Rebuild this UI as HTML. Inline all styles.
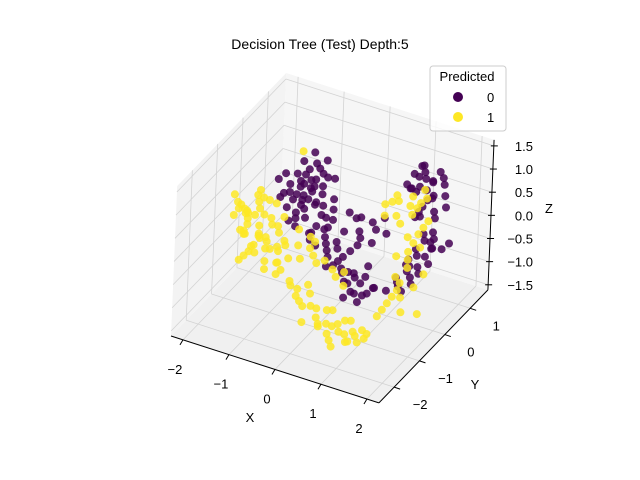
<!DOCTYPE html>
<html><head><meta charset="utf-8"><style>
body{margin:0;background:#fff;}
svg{display:block;font-family:"Liberation Sans","DejaVu Sans",sans-serif;}
</style></head><body>
<svg id="chart" width="640" height="480" viewBox="0 0 640 480">
<text x="320" y="49" text-anchor="middle" font-size="14">Decision Tree (Test) Depth:5</text>
<g id="panes"></g>
<g id="grid"></g>
<g id="axes"></g>
<g id="pts"></g>
<text x="250" y="422" text-anchor="middle" font-size="13">X</text>
<text x="475" y="389" text-anchor="middle" font-size="13">Y</text>
<text x="549" y="213" text-anchor="middle" font-size="13">Z</text>
<g>
<rect x="430" y="66" width="76" height="65" rx="3" fill="#fff" fill-opacity="0.8" stroke="#ccc"/>
<text x="467" y="81" text-anchor="middle" font-size="13">Predicted</text>
<g><circle cx="458" cy="97" r="5" fill="#440154"/><text x="487" y="102" font-size="13">0</text></g>
<g><circle cx="458" cy="117" r="5" fill="#fde725"/><text x="487" y="122" font-size="13">1</text></g>
</g>
</svg>
<script>
const xTicks=[-2,-1,0,1,2];
const yTicks=[-2,-1,0,1];
const zTicks=[-1.5,-1.0,-0.5,0.0,0.5,1.0,1.5];
const zTickLabels=["\u22121.5","\u22121.0","\u22120.5","0.0","0.5","1.0","1.5"];
const xTickLabels=["\u22122","\u22121","0","1","2"];
const yTickLabels=["\u22122","\u22121","0","1"];
const class0X=[-1.3,-1.2,-1.1,-1.0,-0.9,-1.4,-1.2,-0.8,-1.0,-1.5,-1.1,-0.7,-1.3,-0.9,-1.6,-0.6,-1.2,-1.0,-0.8,-1.4,-0.5,-1.1,-0.9,-1.7,-0.7,-0.5,-0.4,-0.3,-0.2,-0.1,0.0,0.1,0.2,0.3,0.4,0.5,0.6,-0.6,0.0,0.2,-0.3,0.7,0.4,-0.2,0.1,0.0,0.2,-0.2,0.4,0.1,0.3,1.0,1.1,0.9,1.2,1.0,1.3,0.8,1.1,1.2,1.4,0.9,1.3,1.2,1.4,1.3,1.1,1.5,1.0,1.2,0.9,1.6,1.5,1.1,0.8,1.4,1.7,1.0,0.8,1.3,1.6,1.8,
-1.25,-1.15,-1.05,-0.95,-0.85,-1.35,-1.25,-0.75,-1.05,-1.45,-1.0,-0.65,-1.2,-0.85,-1.5,-0.55,-1.1,-0.95,-0.75,-1.3,-0.6,-1.15,-0.85,-1.6,-0.8,-1.35,-0.9,-1.2,
-0.45,-0.35,-0.25,-0.15,-0.05,0.05,0.15,0.25,0.35,0.45,0.55,0.65,-0.5,0.05,0.3,-0.1,0.5,
1.05,1.15,0.95,1.25,1.05,1.35,0.85,1.15,1.25,1.45,1.35,1.25,1.45,1.35,1.15,1.55,1.05,1.25,0.95,1.55,1.45,1.5,1.1];
const class0Y=[0.5,0.6,0.4,0.7,0.5,0.3,0.8,0.6,0.3,0.6,0.9,0.4,0.2,0.8,0.4,0.7,0.5,0.5,0.2,0.7,0.5,0.1,0.3,0.5,0.9,0.2,0.1,0.3,0.0,0.2,0.0,-0.1,0.1,-0.2,0.0,-0.3,-0.1,0.0,0.3,-0.3,-0.1,0.0,0.3,0.4,0.4,0.7,0.8,0.6,0.9,0.5,0.6,1.0,1.2,1.1,0.9,1.3,1.1,1.0,0.8,1.3,1.0,1.4,0.8,0.7,0.9,0.6,0.6,0.8,0.7,0.5,0.5,1.1,1.2,1.0,1.2,0.7,0.8,0.4,0.3,1.4,0.6,0.9,
0.55,0.45,0.65,0.55,0.45,0.45,0.75,0.55,0.35,0.5,0.85,0.5,0.3,0.7,0.35,0.6,0.6,0.4,0.3,0.65,0.35,0.2,0.25,0.6,0.8,0.85,0.95,1.0,
0.15,0.05,0.25,0.1,0.05,0.15,-0.05,0.05,-0.15,0.1,-0.2,0.05,0.3,0.55,0.75,0.7,0.8,
1.05,1.15,1.2,1.0,1.25,1.05,1.05,0.85,1.2,0.95,0.75,0.65,0.85,0.55,0.55,0.75,0.65,0.45,0.45,1.15,1.25,0.65,0.35];
const class0Z=[0.0,0.2,0.1,0.3,-0.1,-0.2,0.4,0.1,-0.3,0.1,0.5,-0.2,-0.4,0.4,-0.1,0.0,-0.2,0.4,-0.5,0.3,-0.3,-0.4,-0.6,0.2,0.3,-0.5,-0.7,-0.6,-0.9,-0.8,-1.0,-1.1,-1.0,-1.2,-1.1,-1.3,-1.2,-0.6,-0.7,-1.3,-0.9,-1.1,-0.9,-0.4,-0.6,-0.2,-0.3,-0.1,-0.2,-0.5,-0.6,0.5,0.7,0.8,0.3,0.9,0.4,0.6,0.1,0.6,0.2,0.8,-0.2,-0.5,-0.4,-0.8,-0.7,-0.1,-0.9,-1.0,-1.1,0.3,0.7,0.0,0.4,-0.6,-0.4,-1.2,-1.3,0.8,-0.3,-0.3,
0.15,-0.05,0.05,0.25,0.0,-0.1,0.3,-0.1,-0.15,0.0,0.45,-0.3,-0.25,0.2,0.05,-0.15,-0.1,0.3,-0.4,0.2,-0.45,-0.3,-0.7,0.3,0.35,0.5,0.6,0.65,
-0.6,-0.8,-0.7,-0.85,-0.95,-1.05,-1.15,-1.05,-1.25,-1.0,-1.2,-1.15,-0.35,-0.4,-0.4,-0.25,-0.45,
0.6,0.5,0.7,0.4,0.8,0.5,0.5,0.2,0.7,0.1,-0.3,-0.6,-0.5,-0.9,-0.8,-0.2,-1.0,-1.1,-1.15,0.5,0.8,-0.7,-1.25];
const class1X=[-1.7,-1.6,-1.5,-1.4,-1.3,-1.6,-1.2,-1.1,-1.5,-1.8,-1.0,-1.3,-0.9,-1.4,-1.7,-1.2,-0.8,-1.0,-1.6,-1.1,-1.3,-1.9,-0.9,-1.5,-1.2,-0.7,-0.6,-0.4,-0.2,0.0,0.2,0.4,0.6,0.8,1.0,0.9,0.5,0.3,-0.1,0.7,1.1,0.1,-0.3,0.6,1.2,1.2,1.3,1.4,1.3,1.5,1.4,1.5,1.5,1.3,1.6,1.7,1.6,1.2,1.4,1.1,1.6,1.8,1.9,1.2,1.0,-0.5,-0.3,-0.6,0.0,0.3,-1.4,0.6,0.4,0.7,
-1.65,-1.55,-1.45,-1.35,-1.25,-1.55,-1.15,-1.05,-1.45,-1.75,-0.95,-1.25,-0.85,-1.35,-1.65,-1.15,-0.75,-1.05,-1.6,-1.05,-1.4,-1.8,-0.85,-1.45,-1.3,-1.5,-1.2,-1.0,
-0.55,-0.45,-0.3,-0.1,0.1,0.3,0.5,0.7,0.9,0.8,0.4,0.2,-0.2,1.0,0.6,
1.25,1.35,1.4,1.45,1.45,1.35,1.55,1.5,1.3,1.2,1.4,
-0.4,-0.2,0.1,0.2,-0.45,0.5,0.55,
-0.6,-0.5,-0.7];
const class1Y=[-1.0,-0.9,-1.1,-0.8,-1.0,-1.2,-0.9,-1.1,-0.7,-1.1,-0.8,-1.3,-1.0,-1.2,-0.8,-0.7,-1.2,-1.3,-1.0,-0.6,-0.6,-0.9,-0.7,-1.4,-1.2,-0.9,-1.0,-1.1,-1.2,-1.0,-1.3,-1.1,-1.2,-1.0,-1.2,-1.4,-1.4,-0.9,-1.4,-0.9,-1.0,-1.1,-0.8,-1.5,-1.3,-0.8,-0.6,-0.4,-0.3,-0.2,0.0,0.2,0.5,0.3,0.1,-0.3,-0.6,0.4,0.6,0.2,0.4,-0.1,-0.5,-0.1,0.3,-0.4,-0.5,-0.2,-0.4,-0.5,0.9,1.0,0.9,0.8,
-0.95,-1.0,-0.9,-0.9,-1.05,-1.15,-0.95,-1.0,-0.75,-1.0,-0.85,-1.25,-1.05,-1.1,-0.85,-0.75,-1.1,-1.2,-1.05,-0.65,-0.65,-0.95,-0.75,-1.3,-0.8,-0.6,-0.5,-0.55,
-1.05,-0.95,-1.15,-1.05,-1.2,-1.15,-1.05,-1.15,-1.1,-1.3,-1.3,-0.95,-0.9,-1.0,-0.95,
-0.7,-0.5,-0.3,-0.1,0.1,0.4,0.3,-0.45,0.15,0.5,0.45,
-0.45,-0.35,-0.45,-0.3,-0.3,0.7,0.9,
-0.7,-0.8,-0.5];
const class1Z=[0.5,0.3,0.2,0.4,0.0,0.1,-0.1,-0.2,0.6,0.3,-0.3,-0.1,-0.5,-0.3,0.2,0.2,-0.6,-0.5,-0.1,0.0,0.5,0.6,-0.2,-0.4,0.1,-0.4,-0.8,-1.0,-1.1,-1.2,-1.3,-1.4,-1.4,-1.45,-1.5,-1.4,-1.5,-1.2,-1.3,-1.3,-1.4,-1.5,-0.9,-1.55,-1.3,-1.1,-0.9,-0.7,-0.5,-0.3,-0.1,0.2,0.8,0.5,0.0,-0.6,-1.0,0.6,0.9,0.3,0.4,-0.4,-1.0,-0.2,0.7,-0.4,-0.6,-0.3,-0.7,-0.9,0.67,0.3,0.1,0.0,
0.4,0.25,0.3,0.1,-0.05,0.0,-0.15,-0.25,0.5,0.4,-0.35,-0.25,-0.45,-0.2,0.3,0.1,-0.55,-0.4,0.0,-0.1,0.55,0.5,-0.25,-0.35,0.3,0.65,0.4,0.2,
-0.85,-0.95,-1.05,-1.15,-1.25,-1.35,-1.35,-1.45,-1.45,-1.5,-1.45,-1.2,-1.0,-1.35,-1.3,
-1.0,-0.8,-0.6,-0.2,0.05,0.6,0.3,-0.8,0.1,0.75,0.7,
-0.5,-0.6,-0.8,-0.75,-0.3,0.0,0.2,
-0.2,-0.4,0.0];

const NS="http://www.w3.org/2000/svg";
const xmin=-2.26,xmax=2.26,ymin=-2.6,ymax=1.7,zmin=-1.61,zmax=1.63;
const O=[171,336],ex=[46,14.8],ey=[25.35,-26.28],ez=[1.9,-46.3];
function P(x,y,z){return [O[0]+(x-xmin)*ex[0]+(y-ymin)*ey[0]+(z-zmin)*ez[0], O[1]+(x-xmin)*ex[1]+(y-ymin)*ey[1]+(z-zmin)*ez[1]];}
function mk(tag,attrs,parent){const e=document.createElementNS(NS,tag);for(const k in attrs)e.setAttribute(k,attrs[k]);parent.appendChild(e);return e;}
function poly(pts){return pts.map(p=>p[0].toFixed(1)+","+p[1].toFixed(1)).join(" ");}
const panes=document.getElementById('panes'),grid=document.getElementById('grid'),axes=document.getElementById('axes'),pts=document.getElementById('pts');
let e;
e=mk('polygon',{points:poly([P(xmin,ymin,zmin),P(xmax,ymin,zmin),P(xmax,ymax,zmin),P(xmin,ymax,zmin)]),fill:'#f0f0f0',stroke:'none'},panes);

e=mk('polygon',{points:poly([P(xmin,ymin,zmin),P(xmin,ymax,zmin),P(xmin,ymax,zmax),P(xmin,ymin,zmax)]),fill:'#f3f3f3',stroke:'none'},panes);

e=mk('polygon',{points:poly([P(xmin,ymax,zmin),P(xmax,ymax,zmin),P(xmax,ymax,zmax),P(xmin,ymax,zmax)]),fill:'#f6f6f6',stroke:'none'},panes);

function gl(a,b){const l=mk('line',{x1:a[0],y1:a[1],x2:b[0],y2:b[1],stroke:'#d3d3d3','stroke-width':0.8},grid);

}
xTicks.forEach(x=>{gl(P(x,ymin,zmin),P(x,ymax,zmin));gl(P(x,ymax,zmin),P(x,ymax,zmax));});
yTicks.forEach(y=>{gl(P(xmin,y,zmin),P(xmax,y,zmin));gl(P(xmin,y,zmin),P(xmin,y,zmax));});
zTicks.forEach(z=>{gl(P(xmin,ymin,z),P(xmin,ymax,z));gl(P(xmin,ymax,z),P(xmax,ymax,z));});
function al(a,b,name){const l=mk('line',{x1:a[0],y1:a[1],x2:b[0],y2:b[1],stroke:'#000','stroke-width':1},axes);

}
al(P(xmin,ymin,zmin),P(xmax,ymin,zmin),'x-axis-line');
al(P(xmax,ymin,zmin),P(xmax,ymax,zmin),'y-axis-line');
al(P(xmax,ymax,zmin),P(xmax,ymax,zmax),'z-axis-line');
function txt(x,y,s,anchor,name){const t=mk('text',{x:x,y:y,'font-size':13,'text-anchor':anchor},axes);t.textContent=s;

}
xTicks.forEach((x,i)=>{const p=P(x,ymin,zmin);al(p,[p[0]-3,p[1]+5],'x-tick');txt(p[0]-8,p[1]+34,xTickLabels[i],'middle','x-tick-label');});
yTicks.forEach((y,i)=>{const p=P(xmax,y,zmin);al(p,[p[0]+6,p[1]+2],'y-tick');txt(p[0]+26,p[1]+22,yTickLabels[i],'middle','y-tick-label');});
zTicks.forEach((z,i)=>{const p=P(xmax,ymax,z);al([p[0]-3,p[1]],[p[0]+4,p[1]],'z-tick');txt(533,p[1]+5,zTickLabels[i],'end','z-tick-label');});
function scatter(X,Y,Z,color,name){X.forEach((x,i)=>{const p=P(x,Y[i],Z[i]);const c=mk('circle',{cx:p[0].toFixed(1),cy:p[1].toFixed(1),r:4,fill:color,'fill-opacity':0.85},pts);

});}
scatter(class0X,class0Y,class0Z,'#440154','point-class-0');
scatter(class1X,class1Y,class1Z,'#fde725','point-class-1');
</script>
</body></html>
